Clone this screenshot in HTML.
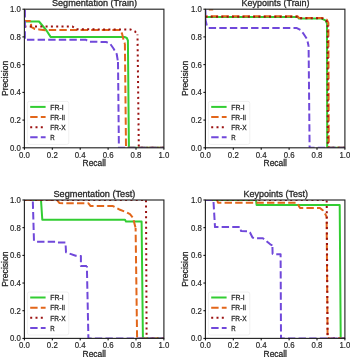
<!DOCTYPE html>
<html><head><meta charset="utf-8"><style>
html,body{margin:0;padding:0;background:#fff;width:350px;height:357px;overflow:hidden}
svg{display:block;font-family:"Liberation Sans",sans-serif;will-change:transform} text{stroke:#262626;stroke-width:0.28px} .t{stroke-width:0.18px}
</style></head><body><div id="w">
<svg width="350" height="357" viewBox="0 0 350 357">
<rect width="350" height="357" fill="#fff"/>
<clipPath id="c0"><rect x="24.4" y="9.2" width="139.50" height="138.60"/></clipPath>
<g clip-path="url(#c0)">
<polyline points="24.40,21.50 39.00,21.50 46.50,30.50 50.60,36.90 124.50,36.90 126.80,38.00 127.90,40.50 128.90,147.80 163.90,147.80" fill="none" stroke="#32cd32" stroke-width="2.0" stroke-dashoffset="0.00" stroke-linejoin="round" stroke-linecap="butt"/>
<polyline points="24.40,9.20 24.40,20.90 30.90,20.90 31.20,26.90 35.00,29.00 39.00,29.40 45.40,30.20 50.00,30.00 120.10,30.00 122.00,33.50 123.50,39.50 124.90,44.00" fill="none" stroke="#e2661a" stroke-width="2.0" stroke-dasharray="7.4 3.2" stroke-dashoffset="0.00" stroke-linejoin="round" stroke-linecap="butt"/>
<polyline points="124.90,44.00 126.00,147.80 163.90,147.80" fill="none" stroke="#e2661a" stroke-width="2.0" stroke-dasharray="7.4 3.2" stroke-dashoffset="128.00" stroke-linejoin="round" stroke-linecap="butt"/>
<polyline points="24.40,26.60 72.50,26.60 76.50,29.30 130.40,29.50 134.90,31.30 137.50,34.40" fill="none" stroke="#9b1111" stroke-width="2.0" stroke-dasharray="2 3.3" stroke-dashoffset="0.00" stroke-linejoin="round" stroke-linecap="butt"/>
<polyline points="137.50,34.40 137.80,60.00 138.80,147.80 163.90,147.80" fill="none" stroke="#9b1111" stroke-width="2.0" stroke-dasharray="2 3.3" stroke-dashoffset="117.72" stroke-linejoin="round" stroke-linecap="butt"/>
<polyline points="24.90,9.20 24.90,39.80 86.00,39.80 88.50,41.70 106.00,42.00 110.00,43.50 113.50,48.50 116.70,54.00 118.00,62.00" fill="none" stroke="#7048da" stroke-width="2.0" stroke-dasharray="7.4 3.2" stroke-dashoffset="-0.90" stroke-linejoin="round" stroke-linecap="butt"/>
<polyline points="118.00,62.00 118.90,147.80 163.90,147.80" fill="none" stroke="#7048da" stroke-width="2.0" stroke-dasharray="7.4 3.2" stroke-dashoffset="137.89" stroke-linejoin="round" stroke-linecap="butt"/>
</g>
<rect x="24.4" y="9.2" width="139.50" height="138.60" fill="none" stroke="#262626" stroke-width="1.15"/>
<line x1="24.40" y1="147.8" x2="24.40" y2="149.8" stroke="#000" stroke-width="1"/>
<line x1="22.4" y1="147.80" x2="24.4" y2="147.80" stroke="#000" stroke-width="1"/>
<text x="18.95" y="157.60" font-size="8.6" fill="#262626" class="t" textLength="10.9" lengthAdjust="spacingAndGlyphs">0.0</text>
<text x="9.90" y="150.70" font-size="8.6" fill="#262626" class="t" textLength="10.9" lengthAdjust="spacingAndGlyphs">0.0</text>
<line x1="52.30" y1="147.8" x2="52.30" y2="149.8" stroke="#000" stroke-width="1"/>
<line x1="22.4" y1="120.08" x2="24.4" y2="120.08" stroke="#000" stroke-width="1"/>
<text x="46.85" y="157.60" font-size="8.6" fill="#262626" class="t" textLength="10.9" lengthAdjust="spacingAndGlyphs">0.2</text>
<text x="9.90" y="122.98" font-size="8.6" fill="#262626" class="t" textLength="10.9" lengthAdjust="spacingAndGlyphs">0.2</text>
<line x1="80.20" y1="147.8" x2="80.20" y2="149.8" stroke="#000" stroke-width="1"/>
<line x1="22.4" y1="92.36" x2="24.4" y2="92.36" stroke="#000" stroke-width="1"/>
<text x="74.75" y="157.60" font-size="8.6" fill="#262626" class="t" textLength="10.9" lengthAdjust="spacingAndGlyphs">0.4</text>
<text x="9.90" y="95.26" font-size="8.6" fill="#262626" class="t" textLength="10.9" lengthAdjust="spacingAndGlyphs">0.4</text>
<line x1="108.10" y1="147.8" x2="108.10" y2="149.8" stroke="#000" stroke-width="1"/>
<line x1="22.4" y1="64.64" x2="24.4" y2="64.64" stroke="#000" stroke-width="1"/>
<text x="102.65" y="157.60" font-size="8.6" fill="#262626" class="t" textLength="10.9" lengthAdjust="spacingAndGlyphs">0.6</text>
<text x="9.90" y="67.54" font-size="8.6" fill="#262626" class="t" textLength="10.9" lengthAdjust="spacingAndGlyphs">0.6</text>
<line x1="136.00" y1="147.8" x2="136.00" y2="149.8" stroke="#000" stroke-width="1"/>
<line x1="22.4" y1="36.92" x2="24.4" y2="36.92" stroke="#000" stroke-width="1"/>
<text x="130.55" y="157.60" font-size="8.6" fill="#262626" class="t" textLength="10.9" lengthAdjust="spacingAndGlyphs">0.8</text>
<text x="9.90" y="39.82" font-size="8.6" fill="#262626" class="t" textLength="10.9" lengthAdjust="spacingAndGlyphs">0.8</text>
<line x1="163.90" y1="147.8" x2="163.90" y2="149.8" stroke="#000" stroke-width="1"/>
<line x1="22.4" y1="9.20" x2="24.4" y2="9.20" stroke="#000" stroke-width="1"/>
<text x="158.45" y="157.60" font-size="8.6" fill="#262626" class="t" textLength="10.9" lengthAdjust="spacingAndGlyphs">1.0</text>
<text x="9.90" y="12.10" font-size="8.6" fill="#262626" class="t" textLength="10.9" lengthAdjust="spacingAndGlyphs">1.0</text>
<text x="52.00" y="6.10" font-size="8.6" fill="#262626" textLength="85.00" lengthAdjust="spacingAndGlyphs">Segmentation (Train)</text>
<text x="82.55" y="166.20" font-size="8.6" fill="#262626" textLength="23.4" lengthAdjust="spacingAndGlyphs">Recall</text>
<text transform="translate(7.60,96.10) rotate(-90)" x="0" y="0" font-size="8.6" fill="#262626" textLength="35.4" lengthAdjust="spacingAndGlyphs">Precision</text>
<rect x="27.40" y="101.40" width="41.4" height="43.0" rx="2" ry="2" fill="#fff" fill-opacity="0.8" stroke="#f0f0f0" stroke-width="1"/>
<line x1="30.20" y1="106.90" x2="45.60" y2="106.90" fill="none" stroke="#32cd32" stroke-width="2.0"/>
<text x="50.30" y="109.75" font-size="8.0" fill="#262626" textLength="13.4" lengthAdjust="spacingAndGlyphs">FR-I</text>
<line x1="30.20" y1="117.03" x2="45.60" y2="117.03" fill="none" stroke="#e2661a" stroke-width="2.0" stroke-dasharray="7.4 3.2"/>
<text x="50.30" y="119.88" font-size="8.0" fill="#262626" textLength="14.8" lengthAdjust="spacingAndGlyphs">FR-II</text>
<line x1="30.20" y1="127.16" x2="45.60" y2="127.16" fill="none" stroke="#9b1111" stroke-width="2.0" stroke-dasharray="2 3.3"/>
<text x="50.30" y="130.01" font-size="8.0" fill="#262626" textLength="15.2" lengthAdjust="spacingAndGlyphs">FR-X</text>
<line x1="30.20" y1="137.29" x2="45.60" y2="137.29" fill="none" stroke="#7048da" stroke-width="2.0" stroke-dasharray="7.4 3.2"/>
<text x="50.30" y="140.14" font-size="8.0" fill="#262626" textLength="4.4" lengthAdjust="spacingAndGlyphs">R</text>
<clipPath id="c1"><rect x="205.4" y="9.2" width="139.50" height="138.60"/></clipPath>
<g clip-path="url(#c1)">
<polyline points="205.40,17.00 297.70,17.00 299.00,18.60 321.50,18.60 325.50,20.30 327.00,23.70 327.20,147.80 344.90,147.80" fill="none" stroke="#32cd32" stroke-width="2.0" stroke-dashoffset="0.00" stroke-linejoin="round" stroke-linecap="butt"/>
<polyline points="205.40,16.30 297.70,16.30 299.00,17.90 322.50,17.90 326.80,19.60 328.40,23.00 328.80,147.80 344.90,147.80" fill="none" stroke="#e2661a" stroke-width="2.0" stroke-dasharray="7.4 3.2" stroke-dashoffset="5.20" stroke-linejoin="round" stroke-linecap="butt"/>
<line x1="208.8" y1="9.6" x2="213.2" y2="9.6" stroke="#e2661a" stroke-width="2"/>
<polyline points="205.40,16.80 297.70,16.80 299.00,18.30 322.00,18.30 326.00,20.00 327.60,23.40 327.80,147.80 344.90,147.80" fill="none" stroke="#9b1111" stroke-width="2.0" stroke-dasharray="2 3.3" stroke-dashoffset="0.00" stroke-linejoin="round" stroke-linecap="butt"/>
<polyline points="205.40,9.20 205.60,20.20 207.00,26.50 208.50,27.90 296.40,27.90 300.50,30.00 303.50,33.70 307.00,39.00 308.60,46.00" fill="none" stroke="#7048da" stroke-width="2.0" stroke-dasharray="7.4 3.2" stroke-dashoffset="1.50" stroke-linejoin="round" stroke-linecap="butt"/>
<polyline points="308.60,46.00 309.60,147.80 344.90,147.80" fill="none" stroke="#7048da" stroke-width="2.0" stroke-dasharray="7.4 3.2" stroke-dashoffset="133.81" stroke-linejoin="round" stroke-linecap="butt"/>
</g>
<rect x="205.4" y="9.2" width="139.50" height="138.60" fill="none" stroke="#262626" stroke-width="1.15"/>
<line x1="205.40" y1="147.8" x2="205.40" y2="149.8" stroke="#000" stroke-width="1"/>
<line x1="203.4" y1="147.80" x2="205.4" y2="147.80" stroke="#000" stroke-width="1"/>
<text x="199.95" y="157.60" font-size="8.6" fill="#262626" class="t" textLength="10.9" lengthAdjust="spacingAndGlyphs">0.0</text>
<text x="190.90" y="150.70" font-size="8.6" fill="#262626" class="t" textLength="10.9" lengthAdjust="spacingAndGlyphs">0.0</text>
<line x1="233.30" y1="147.8" x2="233.30" y2="149.8" stroke="#000" stroke-width="1"/>
<line x1="203.4" y1="120.08" x2="205.4" y2="120.08" stroke="#000" stroke-width="1"/>
<text x="227.85" y="157.60" font-size="8.6" fill="#262626" class="t" textLength="10.9" lengthAdjust="spacingAndGlyphs">0.2</text>
<text x="190.90" y="122.98" font-size="8.6" fill="#262626" class="t" textLength="10.9" lengthAdjust="spacingAndGlyphs">0.2</text>
<line x1="261.20" y1="147.8" x2="261.20" y2="149.8" stroke="#000" stroke-width="1"/>
<line x1="203.4" y1="92.36" x2="205.4" y2="92.36" stroke="#000" stroke-width="1"/>
<text x="255.75" y="157.60" font-size="8.6" fill="#262626" class="t" textLength="10.9" lengthAdjust="spacingAndGlyphs">0.4</text>
<text x="190.90" y="95.26" font-size="8.6" fill="#262626" class="t" textLength="10.9" lengthAdjust="spacingAndGlyphs">0.4</text>
<line x1="289.10" y1="147.8" x2="289.10" y2="149.8" stroke="#000" stroke-width="1"/>
<line x1="203.4" y1="64.64" x2="205.4" y2="64.64" stroke="#000" stroke-width="1"/>
<text x="283.65" y="157.60" font-size="8.6" fill="#262626" class="t" textLength="10.9" lengthAdjust="spacingAndGlyphs">0.6</text>
<text x="190.90" y="67.54" font-size="8.6" fill="#262626" class="t" textLength="10.9" lengthAdjust="spacingAndGlyphs">0.6</text>
<line x1="317.00" y1="147.8" x2="317.00" y2="149.8" stroke="#000" stroke-width="1"/>
<line x1="203.4" y1="36.92" x2="205.4" y2="36.92" stroke="#000" stroke-width="1"/>
<text x="311.55" y="157.60" font-size="8.6" fill="#262626" class="t" textLength="10.9" lengthAdjust="spacingAndGlyphs">0.8</text>
<text x="190.90" y="39.82" font-size="8.6" fill="#262626" class="t" textLength="10.9" lengthAdjust="spacingAndGlyphs">0.8</text>
<line x1="344.90" y1="147.8" x2="344.90" y2="149.8" stroke="#000" stroke-width="1"/>
<line x1="203.4" y1="9.20" x2="205.4" y2="9.20" stroke="#000" stroke-width="1"/>
<text x="339.45" y="157.60" font-size="8.6" fill="#262626" class="t" textLength="10.9" lengthAdjust="spacingAndGlyphs">1.0</text>
<text x="190.90" y="12.10" font-size="8.6" fill="#262626" class="t" textLength="10.9" lengthAdjust="spacingAndGlyphs">1.0</text>
<text x="241.60" y="6.00" font-size="8.6" fill="#262626" textLength="68.00" lengthAdjust="spacingAndGlyphs">Keypoints (Train)</text>
<text x="263.55" y="166.20" font-size="8.6" fill="#262626" textLength="23.4" lengthAdjust="spacingAndGlyphs">Recall</text>
<text transform="translate(188.10,96.10) rotate(-90)" x="0" y="0" font-size="8.6" fill="#262626" textLength="35.4" lengthAdjust="spacingAndGlyphs">Precision</text>
<rect x="208.40" y="101.40" width="41.4" height="43.0" rx="2" ry="2" fill="#fff" fill-opacity="0.8" stroke="#f0f0f0" stroke-width="1"/>
<line x1="211.20" y1="106.90" x2="226.60" y2="106.90" fill="none" stroke="#32cd32" stroke-width="2.0"/>
<text x="231.30" y="109.75" font-size="8.0" fill="#262626" textLength="13.4" lengthAdjust="spacingAndGlyphs">FR-I</text>
<line x1="211.20" y1="117.03" x2="226.60" y2="117.03" fill="none" stroke="#e2661a" stroke-width="2.0" stroke-dasharray="7.4 3.2"/>
<text x="231.30" y="119.88" font-size="8.0" fill="#262626" textLength="14.8" lengthAdjust="spacingAndGlyphs">FR-II</text>
<line x1="211.20" y1="127.16" x2="226.60" y2="127.16" fill="none" stroke="#9b1111" stroke-width="2.0" stroke-dasharray="2 3.3"/>
<text x="231.30" y="130.01" font-size="8.0" fill="#262626" textLength="15.2" lengthAdjust="spacingAndGlyphs">FR-X</text>
<line x1="211.20" y1="137.29" x2="226.60" y2="137.29" fill="none" stroke="#7048da" stroke-width="2.0" stroke-dasharray="7.4 3.2"/>
<text x="231.30" y="140.14" font-size="8.0" fill="#262626" textLength="4.4" lengthAdjust="spacingAndGlyphs">R</text>
<clipPath id="c2"><rect x="24.4" y="200.0" width="139.50" height="138.40"/></clipPath>
<g clip-path="url(#c2)">
<polyline points="24.40,200.00 41.00,200.00 42.30,219.70 125.00,219.70 126.00,221.60 141.60,221.60 142.90,338.40 163.90,338.40" fill="none" stroke="#32cd32" stroke-width="2.0" stroke-dashoffset="0.00" stroke-linejoin="round" stroke-linecap="butt"/>
<polyline points="24.40,200.00 56.90,200.00 59.50,203.10 88.50,203.30 90.60,206.10 113.00,206.10 120.00,209.80 126.00,212.00 130.00,214.20 133.00,217.80 135.60,228.00" fill="none" stroke="#e2661a" stroke-width="2.0" stroke-dasharray="7.4 3.2" stroke-dashoffset="-1.00" stroke-linejoin="round" stroke-linecap="butt"/>
<polyline points="135.60,228.00 137.10,338.40 163.90,338.40" fill="none" stroke="#e2661a" stroke-width="2.0" stroke-dasharray="7.4 3.2" stroke-dashoffset="120.43" stroke-linejoin="round" stroke-linecap="butt"/>
<polyline points="24.40,200.00 146.00,200.00 146.60,338.40 163.90,338.40" fill="none" stroke="#9b1111" stroke-width="2.0" stroke-dasharray="2 3.3" stroke-dashoffset="0.00" stroke-linejoin="round" stroke-linecap="butt"/>
<polyline points="32.80,200.00 34.00,241.80" fill="none" stroke="#7048da" stroke-width="2.0" stroke-dasharray="7.4 3.2" stroke-dashoffset="-1.50" stroke-linejoin="round" stroke-linecap="butt"/>
<polyline points="34.00,241.80 56.90,241.80 57.50,242.50 65.50,242.50 66.00,252.30 75.70,255.70 80.90,256.00 80.90,266.00 86.90,266.00" fill="none" stroke="#7048da" stroke-width="2.0" stroke-dasharray="7.4 3.2" stroke-dashoffset="39.32" stroke-linejoin="round" stroke-linecap="butt"/>
<polyline points="86.90,266.00 87.00,272.00 88.40,338.40 163.90,338.40" fill="none" stroke="#7048da" stroke-width="2.0" stroke-dasharray="7.4 3.2" stroke-dashoffset="111.94" stroke-linejoin="round" stroke-linecap="butt"/>
</g>
<rect x="24.4" y="200.0" width="139.50" height="138.40" fill="none" stroke="#262626" stroke-width="1.15"/>
<line x1="24.40" y1="338.4" x2="24.40" y2="340.4" stroke="#000" stroke-width="1"/>
<line x1="22.4" y1="338.40" x2="24.4" y2="338.40" stroke="#000" stroke-width="1"/>
<text x="18.95" y="348.20" font-size="8.6" fill="#262626" class="t" textLength="10.9" lengthAdjust="spacingAndGlyphs">0.0</text>
<text x="9.90" y="341.30" font-size="8.6" fill="#262626" class="t" textLength="10.9" lengthAdjust="spacingAndGlyphs">0.0</text>
<line x1="52.30" y1="338.4" x2="52.30" y2="340.4" stroke="#000" stroke-width="1"/>
<line x1="22.4" y1="310.72" x2="24.4" y2="310.72" stroke="#000" stroke-width="1"/>
<text x="46.85" y="348.20" font-size="8.6" fill="#262626" class="t" textLength="10.9" lengthAdjust="spacingAndGlyphs">0.2</text>
<text x="9.90" y="313.62" font-size="8.6" fill="#262626" class="t" textLength="10.9" lengthAdjust="spacingAndGlyphs">0.2</text>
<line x1="80.20" y1="338.4" x2="80.20" y2="340.4" stroke="#000" stroke-width="1"/>
<line x1="22.4" y1="283.04" x2="24.4" y2="283.04" stroke="#000" stroke-width="1"/>
<text x="74.75" y="348.20" font-size="8.6" fill="#262626" class="t" textLength="10.9" lengthAdjust="spacingAndGlyphs">0.4</text>
<text x="9.90" y="285.94" font-size="8.6" fill="#262626" class="t" textLength="10.9" lengthAdjust="spacingAndGlyphs">0.4</text>
<line x1="108.10" y1="338.4" x2="108.10" y2="340.4" stroke="#000" stroke-width="1"/>
<line x1="22.4" y1="255.36" x2="24.4" y2="255.36" stroke="#000" stroke-width="1"/>
<text x="102.65" y="348.20" font-size="8.6" fill="#262626" class="t" textLength="10.9" lengthAdjust="spacingAndGlyphs">0.6</text>
<text x="9.90" y="258.26" font-size="8.6" fill="#262626" class="t" textLength="10.9" lengthAdjust="spacingAndGlyphs">0.6</text>
<line x1="136.00" y1="338.4" x2="136.00" y2="340.4" stroke="#000" stroke-width="1"/>
<line x1="22.4" y1="227.68" x2="24.4" y2="227.68" stroke="#000" stroke-width="1"/>
<text x="130.55" y="348.20" font-size="8.6" fill="#262626" class="t" textLength="10.9" lengthAdjust="spacingAndGlyphs">0.8</text>
<text x="9.90" y="230.58" font-size="8.6" fill="#262626" class="t" textLength="10.9" lengthAdjust="spacingAndGlyphs">0.8</text>
<line x1="163.90" y1="338.4" x2="163.90" y2="340.4" stroke="#000" stroke-width="1"/>
<line x1="22.4" y1="200.00" x2="24.4" y2="200.00" stroke="#000" stroke-width="1"/>
<text x="158.45" y="348.20" font-size="8.6" fill="#262626" class="t" textLength="10.9" lengthAdjust="spacingAndGlyphs">1.0</text>
<text x="9.90" y="202.90" font-size="8.6" fill="#262626" class="t" textLength="10.9" lengthAdjust="spacingAndGlyphs">1.0</text>
<text x="53.50" y="196.80" font-size="8.6" fill="#262626" textLength="81.80" lengthAdjust="spacingAndGlyphs">Segmentation (Test)</text>
<text x="82.55" y="356.80" font-size="8.6" fill="#262626" textLength="23.4" lengthAdjust="spacingAndGlyphs">Recall</text>
<text transform="translate(7.60,286.80) rotate(-90)" x="0" y="0" font-size="8.6" fill="#262626" textLength="35.4" lengthAdjust="spacingAndGlyphs">Precision</text>
<rect x="27.40" y="292.00" width="41.4" height="43.0" rx="2" ry="2" fill="#fff" fill-opacity="0.8" stroke="#f0f0f0" stroke-width="1"/>
<line x1="30.20" y1="297.50" x2="45.60" y2="297.50" fill="none" stroke="#32cd32" stroke-width="2.0"/>
<text x="50.30" y="300.35" font-size="8.0" fill="#262626" textLength="13.4" lengthAdjust="spacingAndGlyphs">FR-I</text>
<line x1="30.20" y1="307.63" x2="45.60" y2="307.63" fill="none" stroke="#e2661a" stroke-width="2.0" stroke-dasharray="7.4 3.2"/>
<text x="50.30" y="310.48" font-size="8.0" fill="#262626" textLength="14.8" lengthAdjust="spacingAndGlyphs">FR-II</text>
<line x1="30.20" y1="317.76" x2="45.60" y2="317.76" fill="none" stroke="#9b1111" stroke-width="2.0" stroke-dasharray="2 3.3"/>
<text x="50.30" y="320.61" font-size="8.0" fill="#262626" textLength="15.2" lengthAdjust="spacingAndGlyphs">FR-X</text>
<line x1="30.20" y1="327.89" x2="45.60" y2="327.89" fill="none" stroke="#7048da" stroke-width="2.0" stroke-dasharray="7.4 3.2"/>
<text x="50.30" y="330.74" font-size="8.0" fill="#262626" textLength="4.4" lengthAdjust="spacingAndGlyphs">R</text>
<clipPath id="c3"><rect x="205.4" y="200.0" width="139.50" height="138.40"/></clipPath>
<g clip-path="url(#c3)">
<polyline points="205.40,200.00 256.00,200.00 256.60,205.00 339.70,205.00 340.70,338.40 344.90,338.40" fill="none" stroke="#32cd32" stroke-width="2.0" stroke-dashoffset="0.00" stroke-linejoin="round" stroke-linecap="butt"/>
<polyline points="205.40,200.00 217.20,200.00 218.00,202.70 296.90,202.70 300.00,207.90 320.00,207.90 323.00,210.40 326.60,216.40" fill="none" stroke="#e2661a" stroke-width="2.0" stroke-dasharray="7.4 3.2" stroke-dashoffset="0.00" stroke-linejoin="round" stroke-linecap="butt"/>
<polyline points="326.60,216.40 327.60,338.40 344.90,338.40" fill="none" stroke="#e2661a" stroke-width="2.0" stroke-dasharray="7.4 3.2" stroke-dashoffset="132.37" stroke-linejoin="round" stroke-linecap="butt"/>
<polyline points="205.40,200.00 326.70,200.00 327.60,338.40 344.90,338.40" fill="none" stroke="#9b1111" stroke-width="2.0" stroke-dasharray="2 3.3" stroke-dashoffset="0.00" stroke-linejoin="round" stroke-linecap="butt"/>
<polyline points="205.40,200.00 213.40,200.00 215.00,227.10 240.30,227.10 241.00,231.00 248.50,231.20 250.00,232.50 252.50,237.50 254.50,238.30 262.90,238.30 265.50,240.50 270.30,244.30 272.40,245.50" fill="none" stroke="#7048da" stroke-width="2.0" stroke-dasharray="7.4 3.2" stroke-dashoffset="0.60" stroke-linejoin="round" stroke-linecap="butt"/>
<polyline points="272.40,245.50 272.60,253.80 274.50,254.20 280.60,254.30 281.00,338.40 344.90,338.40" fill="none" stroke="#7048da" stroke-width="2.0" stroke-dasharray="7.4 3.2" stroke-dashoffset="104.59" stroke-linejoin="round" stroke-linecap="butt"/>
</g>
<rect x="205.4" y="200.0" width="139.50" height="138.40" fill="none" stroke="#262626" stroke-width="1.15"/>
<line x1="205.40" y1="338.4" x2="205.40" y2="340.4" stroke="#000" stroke-width="1"/>
<line x1="203.4" y1="338.40" x2="205.4" y2="338.40" stroke="#000" stroke-width="1"/>
<text x="199.95" y="348.20" font-size="8.6" fill="#262626" class="t" textLength="10.9" lengthAdjust="spacingAndGlyphs">0.0</text>
<text x="190.90" y="341.30" font-size="8.6" fill="#262626" class="t" textLength="10.9" lengthAdjust="spacingAndGlyphs">0.0</text>
<line x1="233.30" y1="338.4" x2="233.30" y2="340.4" stroke="#000" stroke-width="1"/>
<line x1="203.4" y1="310.72" x2="205.4" y2="310.72" stroke="#000" stroke-width="1"/>
<text x="227.85" y="348.20" font-size="8.6" fill="#262626" class="t" textLength="10.9" lengthAdjust="spacingAndGlyphs">0.2</text>
<text x="190.90" y="313.62" font-size="8.6" fill="#262626" class="t" textLength="10.9" lengthAdjust="spacingAndGlyphs">0.2</text>
<line x1="261.20" y1="338.4" x2="261.20" y2="340.4" stroke="#000" stroke-width="1"/>
<line x1="203.4" y1="283.04" x2="205.4" y2="283.04" stroke="#000" stroke-width="1"/>
<text x="255.75" y="348.20" font-size="8.6" fill="#262626" class="t" textLength="10.9" lengthAdjust="spacingAndGlyphs">0.4</text>
<text x="190.90" y="285.94" font-size="8.6" fill="#262626" class="t" textLength="10.9" lengthAdjust="spacingAndGlyphs">0.4</text>
<line x1="289.10" y1="338.4" x2="289.10" y2="340.4" stroke="#000" stroke-width="1"/>
<line x1="203.4" y1="255.36" x2="205.4" y2="255.36" stroke="#000" stroke-width="1"/>
<text x="283.65" y="348.20" font-size="8.6" fill="#262626" class="t" textLength="10.9" lengthAdjust="spacingAndGlyphs">0.6</text>
<text x="190.90" y="258.26" font-size="8.6" fill="#262626" class="t" textLength="10.9" lengthAdjust="spacingAndGlyphs">0.6</text>
<line x1="317.00" y1="338.4" x2="317.00" y2="340.4" stroke="#000" stroke-width="1"/>
<line x1="203.4" y1="227.68" x2="205.4" y2="227.68" stroke="#000" stroke-width="1"/>
<text x="311.55" y="348.20" font-size="8.6" fill="#262626" class="t" textLength="10.9" lengthAdjust="spacingAndGlyphs">0.8</text>
<text x="190.90" y="230.58" font-size="8.6" fill="#262626" class="t" textLength="10.9" lengthAdjust="spacingAndGlyphs">0.8</text>
<line x1="344.90" y1="338.4" x2="344.90" y2="340.4" stroke="#000" stroke-width="1"/>
<line x1="203.4" y1="200.00" x2="205.4" y2="200.00" stroke="#000" stroke-width="1"/>
<text x="339.45" y="348.20" font-size="8.6" fill="#262626" class="t" textLength="10.9" lengthAdjust="spacingAndGlyphs">1.0</text>
<text x="190.90" y="202.90" font-size="8.6" fill="#262626" class="t" textLength="10.9" lengthAdjust="spacingAndGlyphs">1.0</text>
<text x="243.60" y="196.80" font-size="8.6" fill="#262626" textLength="64.40" lengthAdjust="spacingAndGlyphs">Keypoints (Test)</text>
<text x="263.55" y="356.80" font-size="8.6" fill="#262626" textLength="23.4" lengthAdjust="spacingAndGlyphs">Recall</text>
<text transform="translate(188.10,286.80) rotate(-90)" x="0" y="0" font-size="8.6" fill="#262626" textLength="35.4" lengthAdjust="spacingAndGlyphs">Precision</text>
<rect x="208.40" y="292.00" width="41.4" height="43.0" rx="2" ry="2" fill="#fff" fill-opacity="0.8" stroke="#f0f0f0" stroke-width="1"/>
<line x1="211.20" y1="297.50" x2="226.60" y2="297.50" fill="none" stroke="#32cd32" stroke-width="2.0"/>
<text x="231.30" y="300.35" font-size="8.0" fill="#262626" textLength="13.4" lengthAdjust="spacingAndGlyphs">FR-I</text>
<line x1="211.20" y1="307.63" x2="226.60" y2="307.63" fill="none" stroke="#e2661a" stroke-width="2.0" stroke-dasharray="7.4 3.2"/>
<text x="231.30" y="310.48" font-size="8.0" fill="#262626" textLength="14.8" lengthAdjust="spacingAndGlyphs">FR-II</text>
<line x1="211.20" y1="317.76" x2="226.60" y2="317.76" fill="none" stroke="#9b1111" stroke-width="2.0" stroke-dasharray="2 3.3"/>
<text x="231.30" y="320.61" font-size="8.0" fill="#262626" textLength="15.2" lengthAdjust="spacingAndGlyphs">FR-X</text>
<line x1="211.20" y1="327.89" x2="226.60" y2="327.89" fill="none" stroke="#7048da" stroke-width="2.0" stroke-dasharray="7.4 3.2"/>
<text x="231.30" y="330.74" font-size="8.0" fill="#262626" textLength="4.4" lengthAdjust="spacingAndGlyphs">R</text>
</svg></div>
</body></html>
